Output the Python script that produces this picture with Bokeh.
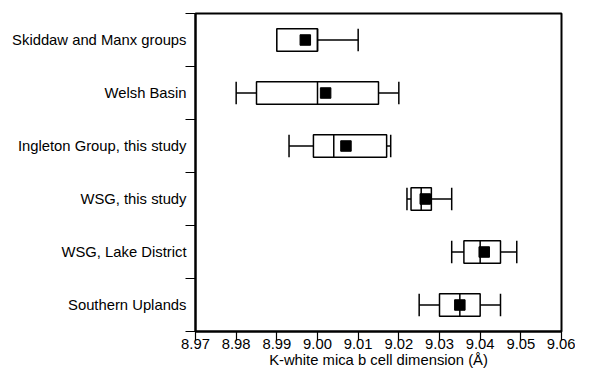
from bokeh.plotting import figure
from bokeh.models import Range1d, FixedTicker, ColumnDataSource
from bokeh.embed import file_html
from bokeh.resources import INLINE

categories = ["Skiddaw and Manx groups", "Welsh Basin", "Ingleton Group, this study",
              "WSG, this study", "WSG, Lake District", "Southern Uplands"]
whisker_low = [8.990, 8.980, 8.993, 9.022, 9.033, 9.025]
q1 = [8.990, 8.985, 8.999, 9.023, 9.036, 9.030]
median = [9.000, 9.000, 9.004, 9.0255, 9.040, 9.035]
q3 = [9.000, 9.015, 9.017, 9.028, 9.045, 9.040]
whisker_high = [9.010, 9.020, 9.018, 9.033, 9.049, 9.045]
mean = [8.997, 9.002, 9.007, 9.0265, 9.041, 9.035]
x_ticks = [8.97, 8.98, 8.99, 9.00, 9.01, 9.02, 9.03, 9.04, 9.05, 9.06]
x_tick_labels = ["8.97", "8.98", "8.99", "9.00", "9.01", "9.02", "9.03", "9.04", "9.05", "9.06"]
x_title = "K-white mica b cell dimension (Å)"

FONT = "Liberation Sans"
FS = "14.8px"
n = len(categories)
ys = [n - 0.5 - i for i in range(n)]
half = 0.21

src = ColumnDataSource(dict(
    y=ys, ylo=[y - half for y in ys], yhi=[y + half for y in ys],
    low=whisker_low, q1=q1, med=median, q3=q3, high=whisker_high, mean=mean))

p = figure(width=575, height=372, x_range=Range1d(x_ticks[0], x_ticks[-1]),
           y_range=Range1d(0, n), output_backend="svg", toolbar_location=None,
           min_border_left=195, min_border_right=14, min_border_top=13, min_border_bottom=41)
p.xgrid.visible = False
p.ygrid.visible = False
p.outline_line_color = "black"
p.outline_line_width = 2
p.outline_line_alpha = 1.0
p.background_fill_color = "white"
p.border_fill_color = "white"

lw = 1.5
p.segment(x0="low", y0="y", x1="high", y1="y", source=src, line_color="black", line_width=lw)
p.segment(x0="low", y0="ylo", x1="low", y1="yhi", source=src, line_color="black", line_width=lw)
p.segment(x0="high", y0="ylo", x1="high", y1="yhi", source=src, line_color="black", line_width=lw)
p.hbar(y="y", left="q1", right="q3", height=2 * half, source=src,
       fill_color="white", line_color="black", line_width=lw)
p.segment(x0="med", y0="ylo", x1="med", y1="yhi", source=src, line_color="black", line_width=lw)
p.scatter(x="mean", y="y", source=src, marker="square", size=10.5,
          fill_color="black", line_color="black")

xa = p.xaxis[0]
xa.ticker = FixedTicker(ticks=x_ticks)
xa.major_label_overrides = {t: s for t, s in zip(x_ticks, x_tick_labels)}
xa.axis_line_width = 2
xa.major_tick_line_width = 1.2
xa.major_tick_out = 9
xa.major_tick_in = 0
xa.minor_tick_line_color = None
xa.major_label_standoff = -2
xa.major_label_text_font = FONT
xa.major_label_text_font_size = FS
xa.major_label_text_color = "black"
xa.axis_label = x_title
xa.axis_label_standoff = 0
xa.axis_label_text_font = FONT
xa.axis_label_text_font_size = FS
xa.axis_label_text_font_style = "normal"
xa.axis_label_text_color = "black"

ya = p.yaxis[0]
ya.ticker = FixedTicker(ticks=ys, minor_ticks=list(range(n + 1)))
ya.major_label_overrides = {y: c for y, c in zip(ys, categories)}
ya.axis_line_width = 2
ya.major_tick_line_color = None
ya.major_tick_out = 0
ya.major_tick_in = 0
ya.minor_tick_line_color = "black"
ya.minor_tick_line_width = 1.2
ya.minor_tick_out = 10
ya.minor_tick_in = 0
ya.major_label_standoff = -1
ya.major_label_text_font = FONT
ya.major_label_text_font_size = FS
ya.major_label_text_color = "black"

open("out.html", "w").write(file_html(p, INLINE))
